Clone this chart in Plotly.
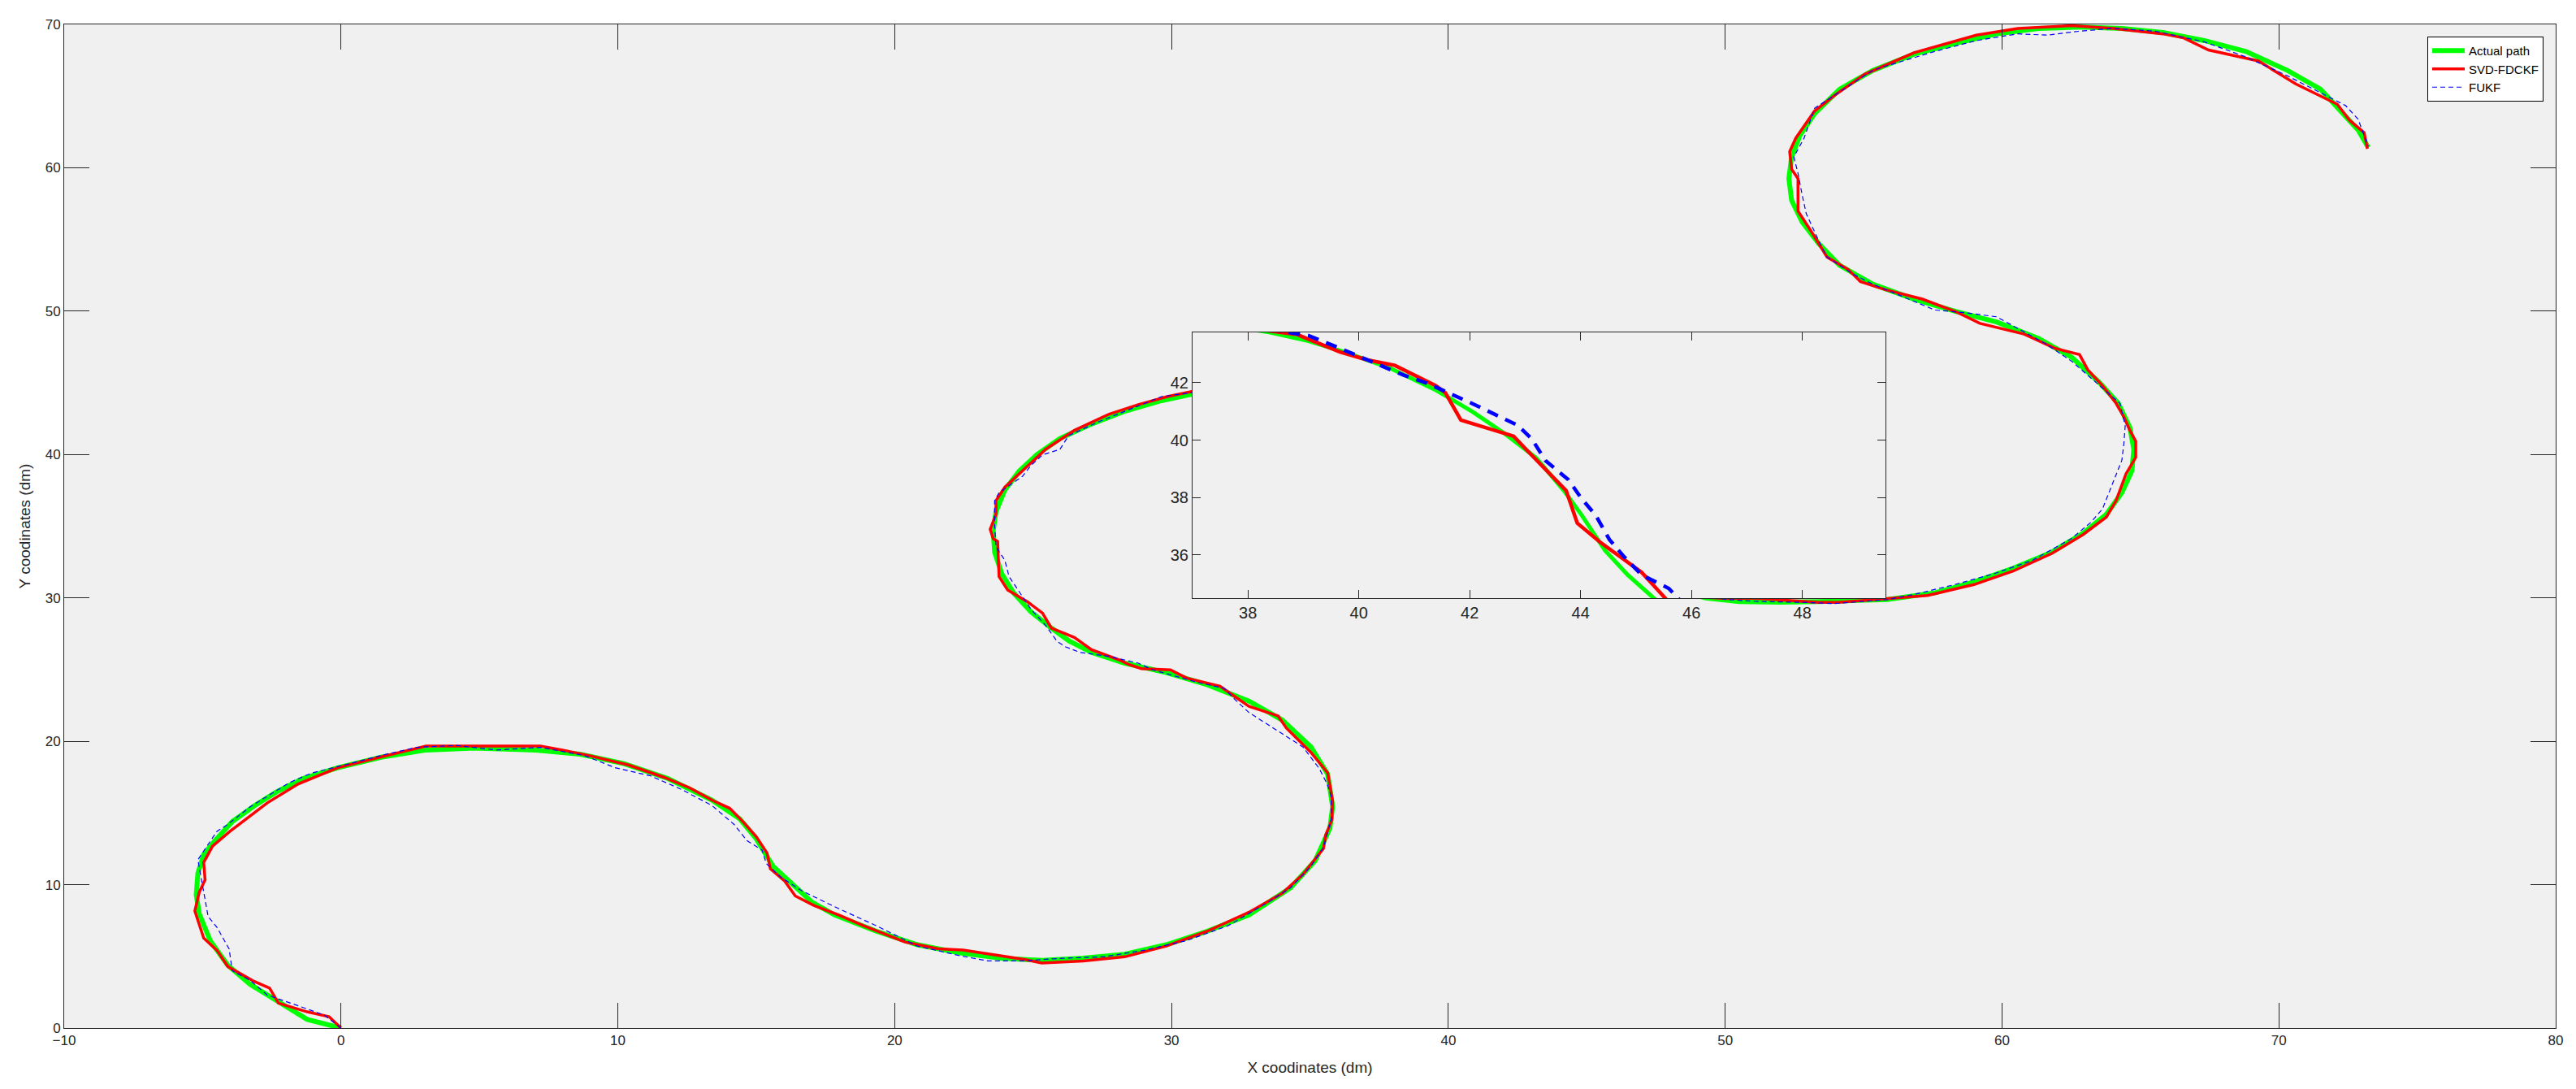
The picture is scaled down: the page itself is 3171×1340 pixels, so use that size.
import plotly.graph_objects as go

# ---------------- data ----------------
actual_x = [0, -1.22, -2.34, -3.29, -4.09, -4.72, -5.12, -5.23, -5.17, -4.96, -4.56, -3.93, -3.13, -2.34, -1.38, -0.11,
            1.48, 3.07, 4.82, 7.04, 8.63, 10.22, 11.81, 13.4, 14.4, 15.0, 15.6, 16.3, 17.0, 17.83, 19.33, 20.82, 22.32,
            23.82, 25.31, 26.81, 28.31, 29.81, 31.3, 32.8, 34.3, 35.19, 35.72, 35.82, 35.64, 35.04, 34.0, 32.8, 31.3,
            29.81, 28.31, 27.11, 26.3, 25.66, 24.92, 24.29, 23.87, 23.61, 23.56, 23.66, 23.98, 24.5, 25.13, 25.97,
            27.02, 28.28, 29.64, 30.8, 32.2, 33.8, 35.4, 36.9, 38.4, 39.09, 39.74, 40.57, 41.39, 42.05, 42.63, 43.2,
            43.7, 44.02, 44.44, 44.85, 45.32, 45.9, 46.6, 47.4, 48.3, 49.3, 50.5, 52.0, 53.38, 55.85, 57.59, 58.99,
            60.4, 61.8, 62.93, 63.77, 64.33, 64.69, 64.76, 64.62, 64.2, 63.49, 62.52, 61.32, 59.82, 58.32, 56.82,
            55.33, 54.13, 53.38, 52.78, 52.4, 52.3, 52.4, 52.7, 53.23, 54.13, 55.33, 56.82, 58.32, 59.82, 61.32,
            62.82, 64.32, 65.81, 67.31, 68.81, 70.31, 71.51, 72.26, 72.86, 73.23]
actual_y = [0, 0.6, 1.93, 3.06, 4.38, 6.08, 7.97, 9.29, 10.8, 12.1, 13.06, 14.39, 15.5, 16.46, 17.4, 18.16,
            18.9, 19.39, 19.52, 19.39, 19.1, 18.44, 17.4, 15.9, 14.6, 13.2, 11.3, 10.0, 8.8, 7.89, 6.76, 5.81, 5.25,
            4.87, 4.72, 4.87, 5.15, 5.81, 6.76, 7.89, 9.78, 11.67, 13.93, 15.44, 17.71, 19.6, 21.48, 22.8, 23.94,
            24.79, 25.45, 26.2, 27.0, 27.9, 29.03, 30.36, 31.68, 33.19, 34.7, 36.02, 37.53, 38.85, 39.98, 41.12,
            42.06, 43.0, 43.76, 44.23, 44.55, 44.65, 44.5, 44.2, 43.75, 43.45, 43.07, 42.5, 41.74, 40.99, 40.23, 39.38,
            38.24, 37.39, 36.16, 35.31, 34.48, 33.5, 32.4, 31.3, 30.5, 30.0, 29.75, 29.7, 29.75, 29.88, 30.36, 31.11,
            32.06, 33.19, 34.51, 35.83, 37.34, 38.85, 40.36, 41.87, 43.57, 45.08, 46.78, 48.1, 49.23, 49.99, 50.84,
            51.88, 53.2, 54.71, 56.22, 57.73, 59.24, 60.75, 62.26, 63.77, 65.47, 66.79, 67.92, 68.68, 69.34, 69.72,
            69.81, 69.72, 69.43, 68.87, 68.11, 66.79, 65.47, 63.96, 62.64, 61.41]

svd_x = [0, -0.43, -1.22, -2.26, -2.58, -3.13, -4.09, -4.48, -4.96, -5.28, -5.12, -4.91, -4.96, -4.64, -4.01, -2.66,
         -1.54, -0.11, 1.64, 3.07, 4.34, 5.45, 7.2, 8.0, 8.95, 10.38, 11.65, 12.6, 13.4, 14.04, 14.52, 15.0, 15.39,
         15.51, 16.03, 16.41, 17.08, 17.98, 18.88, 20.37, 21.57, 22.47, 24.72, 25.31, 26.06, 26.81, 28.31, 29.81,
         31.3, 32.8, 34.0, 34.75, 35.49, 35.57, 35.79, 35.82, 35.72, 35.64, 35.04, 34.75, 34.15, 33.85, 32.8, 31.75,
         30.55, 29.96, 28.91, 28.46, 28.16, 27.11, 26.49, 25.66, 25.34, 24.82, 24.08, 23.77, 23.72, 23.56, 23.45,
         23.66, 23.66, 23.98, 24.61, 25.45, 26.49, 27.75, 28.8, 29.85, 30.8, 32.3, 33.9, 35.5, 37.2, 38.88, 39.66,
         40.16, 40.65, 41.39, 41.56, 41.84, 42.63, 42.79, 43.12, 43.74, 43.94, 44.35, 45.1, 46.0, 46.9, 47.8, 48.8,
         50.0, 51.0, 53.38, 54.08, 55.85, 57.31, 58.99, 60.4, 61.8, 62.93, 63.77, 64.12, 64.48, 64.83, 64.83, 64.62,
         64.4, 64.12, 63.63, 63.1, 62.8, 61.93, 60.8, 59.2, 58.3, 57.12, 55.78, 54.88, 54.43, 53.68, 53.08, 52.63,
         52.63, 52.4, 52.33, 52.55, 53.23, 53.98, 55.03, 56.82, 59.07, 60.57, 62.52, 64.02, 65.81, 66.56, 67.46,
         69.26, 70.61, 72.11, 72.56, 73.08, 73.2]
svd_y = [0, 0.79, 1.13, 1.74, 2.78, 3.25, 4.29, 5.42, 6.27, 8.16, 9.48, 10.33, 11.55, 12.69, 13.72, 15.71,
         17.03, 18.16, 19.0, 19.67, 19.67, 19.67, 19.67, 19.39, 19.01, 18.35, 17.5, 16.75, 15.9, 15.33, 14.39, 13.35,
         12.21, 11.1, 10.25, 9.21, 8.55, 7.89, 7.14, 6.0, 5.53, 5.44, 4.78, 4.53, 4.59, 4.68, 4.97, 5.72,
         6.76, 8.08, 9.4, 10.72, 12.52, 13.46, 14.5, 15.82, 16.95, 17.8, 19.22, 19.78, 20.92, 21.77, 22.43, 23.84,
         24.41, 24.98, 25.07, 25.35, 25.64, 26.39, 27.24, 27.9, 28.94, 29.7, 30.55, 31.49, 33.94, 34.13, 34.79,
         35.83, 36.78, 37.72, 38.85, 40.36, 41.68, 42.82, 43.48, 44.04, 44.42, 44.7, 44.8, 44.6, 44.1, 43.68, 43.07,
         42.79, 42.6, 41.89, 41.65, 40.7, 40.23, 40.14, 39.47, 38.24, 37.11, 36.45, 35.4, 33.5, 32.0, 30.8, 30.1,
         29.95, 29.98, 29.69, 29.69, 29.98, 30.17, 30.93, 31.87, 33.1, 34.42, 35.64, 36.78, 38.66, 39.8, 40.93, 41.68,
         42.63, 43.57, 44.8, 45.9, 46.97, 47.4, 48.4, 49.15, 49.99, 50.84, 51.5, 52.07, 52.92, 53.77, 55.65, 56.98,
         59.24, 59.9, 61.13, 62.07, 63.96, 65.09, 66.51, 68.02, 69.25, 69.72, 69.91, 69.72, 69.34, 69.06, 68.21,
         67.45, 65.85, 64.43, 63.3, 62.45, 61.32]

fukf_x = [0, -0.59, -1.54, -2.66, -3.29, -3.93, -4.04, -4.48, -4.8, -4.96, -5.17, -5.04, -4.48, -4.09, -3.29, -1.86,
          -1.07, 0.52, 1.64, 2.75, 4.18, 5.61, 7.2, 8.79, 9.9, 11.18, 12.29, 13.4, 14.2, 14.67, 15.21, 15.36, 15.88,
          16.63, 17.83, 19.33, 20.82, 22.32, 23.37, 24.57, 26.06, 27.56, 29.06, 30.55, 32.05, 33.55, 34.3, 35.04,
          35.49, 35.79, 35.76, 35.64, 35.34, 34.75, 34.3, 33.55, 32.8, 32.3, 31.9, 30.9, 29.33, 28.8, 27.75, 26.7,
          26.18, 25.87, 25.45, 24.92, 24.4, 24.13, 23.98, 23.66, 23.61, 23.61, 23.77, 24.19, 24.61, 24.92, 25.34,
          25.97, 26.28, 27.33, 28.28, 29.64, 30.8, 32.3, 34.0, 35.6, 37.3, 39.09, 39.58, 39.99, 40.4, 40.81, 41.23,
          41.56, 42.05, 42.46, 42.87, 43.12, 43.37, 43.78, 44.02, 44.27, 44.52, 44.77, 45.1, 45.59, 46.2, 47.0, 47.9,
          48.9, 50.0, 51.2, 52.82, 53.94, 55.85, 56.89, 58.29, 59.7, 61.1, 62.51, 63.21, 63.63, 63.98, 64.33, 64.4,
          64.45, 64.26, 63.35, 62.52, 61.6, 60.7, 59.8, 58.62, 57.57, 56.52, 55.33, 54.58, 53.68, 53.38, 52.93,
          52.78, 52.63, 52.48, 52.85, 53.23, 54.28, 55.33, 55.77, 57.57, 59.07, 60.57, 61.62, 62.82, 64.02, 65.51,
          67.31, 68.81, 70.31, 71.81, 72.41, 72.86, 73.23]
fukf_y = [0, 0.89, 1.55, 2.3, 3.34, 4.0, 5.51, 7.02, 7.78, 9.48, 11.74, 12.12, 13.72, 14.2, 15.42, 17.12,
          17.78, 18.54, 19.1, 19.58, 19.71, 19.39, 19.58, 19.01, 18.16, 17.59, 16.65, 15.52, 14.2, 13.06, 12.42, 11.48,
          10.53, 9.59, 8.46, 7.14, 5.72, 5.06, 4.68, 4.68, 4.87, 4.97, 5.44, 6.1, 7.14, 8.84, 9.78, 11.29,
          12.61, 14.69, 16.2, 16.95, 18.09, 19.6, 20.16, 21.1, 22.0, 22.9, 23.7, 24.13, 24.98, 25.45, 25.92, 26.2,
          26.58, 26.96, 28.09, 29.22, 30.74, 31.49, 32.62, 33.57, 35.08, 36.78, 37.34, 37.91, 38.47, 39.23, 39.98,
          40.36, 41.31, 42.25, 43.0, 44.04, 44.33, 44.6, 44.75, 44.6, 44.2, 43.64, 43.26, 42.93, 42.6, 42.26, 41.98,
          41.7, 41.27, 40.89, 40.51, 40.04, 39.28, 38.62, 37.96, 37.39, 36.54, 35.97, 35.31, 34.84, 33.6, 32.3, 31.1,
          30.3, 29.9, 29.75, 29.69, 29.6, 29.88, 30.27, 30.93, 31.68, 32.62, 34.14, 35.27, 36.21, 37.91, 39.61, 40.74,
          42.0, 43.57, 45.08, 46.5, 47.7, 48.65, 49.61, 49.9, 50.08, 50.93, 51.88, 52.63, 53.77, 54.9, 56.79,
          58.11, 59.62, 60.75, 62.07, 64.15, 65.47, 66.79, 67.07, 68.11, 68.87, 69.34, 69.25, 69.53, 69.72, 69.53,
          68.78, 67.73, 66.41, 64.9, 64.34, 63.39, 61.5]

series_names = ["Actual path", "SVD-FDCKF", "FUKF"]
x_ticks = [-10, 0, 10, 20, 30, 40, 50, 60, 70, 80]
y_ticks = [0, 10, 20, 30, 40, 50, 60, 70]
inset_x_ticks = [38, 40, 42, 44, 46, 48]
inset_y_ticks = [36, 38, 40, 42]

# ---------------- styling ----------------
GREEN = "#00ff00"
RED = "#ff0000"
BLUE = "#0000ff"
INK = "#262626"
FONT = "Liberation Sans, Arial, sans-serif"

fig = go.Figure()

# main axes traces
fig.add_trace(go.Scatter(x=actual_x, y=actual_y, mode="lines", name=series_names[0],
                         line=dict(color=GREEN, width=6), xaxis="x", yaxis="y"))
fig.add_trace(go.Scatter(x=svd_x, y=svd_y, mode="lines", name=series_names[1],
                         line=dict(color=RED, width=3.5), xaxis="x", yaxis="y"))
fig.add_trace(go.Scatter(x=fukf_x, y=fukf_y, mode="lines", name=series_names[2],
                         line=dict(color=BLUE, width=1.2, dash="6px,4px"), xaxis="x", yaxis="y"))

# inset traces (same data, zoomed)
fig.add_trace(go.Scatter(x=actual_x, y=actual_y, mode="lines", showlegend=False,
                         line=dict(color=GREEN, width=5), xaxis="x2", yaxis="y2"))
fig.add_trace(go.Scatter(x=svd_x, y=svd_y, mode="lines", showlegend=False,
                         line=dict(color=RED, width=4.5), xaxis="x2", yaxis="y2"))
fig.add_trace(go.Scatter(x=fukf_x, y=fukf_y, mode="lines", showlegend=False,
                         line=dict(color=BLUE, width=4.5, dash="14px,10px"), xaxis="x2", yaxis="y2"))

# the page body has an 8px margin, so the figure is placed at (8, 8)
OFF = 8
W, H = 3171 - 2 * OFF, 1340 - 2 * OFF
# target plot-area box in window pixels
PL, PR, PT, PB = 79, 3146, 30, 1265
ML, MT = PL - OFF, PT - OFF
MR, MB = (OFF + W) - PR, (OFF + H) - PB
pw, ph = W - ML - MR, H - MT - MB

def px_to_paper_x(px):
    return (px - PL) / pw

def px_to_paper_y(py):
    return (PB - py) / ph

common_axis = dict(showline=True, linecolor=INK, linewidth=1, mirror="ticks", ticks="inside",
                   tickcolor=INK, showgrid=False, zeroline=False, automargin=False)

fig.update_layout(
    width=W, height=H,
    margin=dict(l=ML, r=MR, t=MT, b=MB, autoexpand=False),
    paper_bgcolor="white",
    plot_bgcolor="#f0f0f0",
    font=dict(family=FONT, color=INK),
    xaxis=dict(range=[-10, 80], tickvals=x_ticks, ticklen=31, tickwidth=1,
               tickfont=dict(size=17, color=INK), domain=[0, 1],
               title=dict(text="X coodinates (dm)", font=dict(size=19, color=INK), standoff=17),
               **common_axis),
    yaxis=dict(range=[0, 70], tickvals=y_ticks, ticklen=31, tickwidth=1,
               tickfont=dict(size=17, color=INK), domain=[0, 1],
               title=dict(text="Y coodinates (dm)", font=dict(size=19, color=INK), standoff=13),
               **common_axis),
    xaxis2=dict(range=[37, 49.5], tickvals=inset_x_ticks, ticklen=10, tickwidth=1,
                tickfont=dict(size=20, color=INK), anchor="y2",
                domain=[px_to_paper_x(1468), px_to_paper_x(2321)], **common_axis),
    yaxis2=dict(range=[34.5, 43.75], tickvals=inset_y_ticks, ticklen=10, tickwidth=1,
                tickfont=dict(size=20, color=INK), anchor="x2",
                domain=[px_to_paper_y(736), px_to_paper_y(409)], **common_axis),
    shapes=[dict(type="rect", xref="x2 domain", yref="y2 domain", x0=0, x1=1, y0=0, y1=1,
                 fillcolor="white", line=dict(width=0), layer="below")],
    legend=dict(x=px_to_paper_x(3131), y=px_to_paper_y(45), xanchor="right", yanchor="top",
                bgcolor="white", bordercolor="#000000", borderwidth=1,
                font=dict(size=15, color="#000000", family=FONT),
                tracegroupgap=0, itemwidth=40),
    showlegend=True,
)

fig.write_html("out.html")
